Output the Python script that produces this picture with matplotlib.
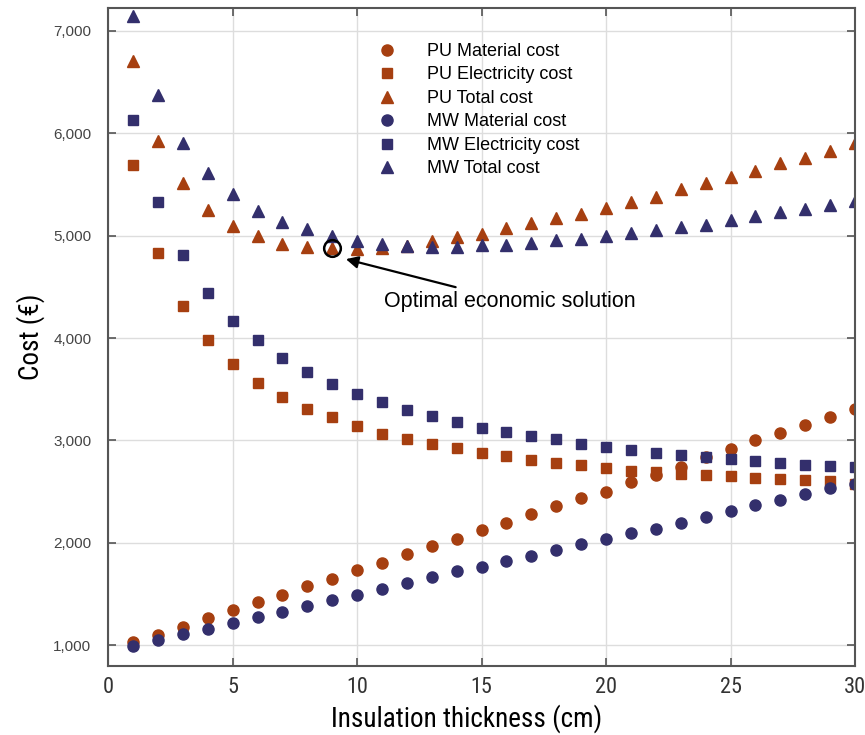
import matplotlib.pyplot as plt
import numpy as np

thickness = np.arange(1, 31)

pu_material = [1030, 1098, 1179, 1266, 1341, 1422, 1494, 1579, 1650, 1738,
               1805, 1888, 1969, 2041, 2129, 2197, 2285, 2356, 2437, 2502,
               2590, 2665, 2746, 2837, 2919, 3000, 3071, 3153, 3228, 3309]
pu_electricity = [5690, 4827, 4312, 3985, 3748, 3563, 3422, 3309, 3228, 3140,
                  3068, 3010, 2961, 2922, 2876, 2847, 2805, 2779, 2759, 2734,
                  2707, 2691, 2675, 2662, 2649, 2632, 2620, 2610, 2600, 2580]
pu_total = [6707, 5927, 5510, 5251, 5095, 4997, 4919, 4893, 4880, 4870,
            4880, 4895, 4951, 4990, 5016, 5071, 5120, 5172, 5211, 5265,
            5325, 5380, 5455, 5510, 5576, 5634, 5706, 5758, 5829, 5900]
mw_material = [993, 1049, 1107, 1163, 1221, 1276, 1322, 1380, 1439, 1494,
               1553, 1608, 1666, 1722, 1764, 1822, 1871, 1934, 1985, 2041,
               2100, 2138, 2197, 2252, 2307, 2366, 2421, 2480, 2535, 2577]
mw_electricity = [6132, 5329, 4815, 4441, 4171, 3976, 3803, 3667, 3553, 3449,
                  3380, 3293, 3237, 3185, 3124, 3081, 3039, 3010, 2968, 2941,
                  2912, 2880, 2863, 2840, 2821, 2795, 2779, 2763, 2749, 2739]
mw_total = [7146, 6373, 5904, 5612, 5407, 5244, 5137, 5065, 5000, 4951,
            4915, 4902, 4893, 4893, 4909, 4909, 4925, 4958, 4970, 5000,
            5026, 5055, 5085, 5107, 5150, 5188, 5227, 5260, 5299, 5341]

optimum_x = 9
optimum_y = 4880

pu_color = "#a63f10"
mw_color = "#332f6c"
narrow = ["Roboto Condensed", "Liberation Sans"]

plt.rcParams["font.family"] = ["Liberation Sans", "DejaVu Sans"]

fig = plt.figure(figsize=(8.65, 7.35), dpi=100)
ax = fig.add_axes([0.125, 0.094, 0.8635, 0.895])

ax.plot(thickness, pu_material, "o", color=pu_color, ms=8, label="PU Material cost")
ax.plot(thickness, pu_electricity, "s", color=pu_color, ms=6.5, label="PU Electricity cost")
ax.plot(thickness, pu_total, "^", color=pu_color, ms=8.5, label="PU Total cost")
ax.plot(thickness, mw_material, "o", color=mw_color, ms=8, label="MW Material cost")
ax.plot(thickness, mw_electricity, "s", color=mw_color, ms=6.5, label="MW Electricity cost")
ax.plot(thickness, mw_total, "^", color=mw_color, ms=8.5, label="MW Total cost")

# optimum marker + annotation
ax.plot(optimum_x, optimum_y, "o", mfc="none", mec="black", mew=1.8, ms=12)
ax.annotate("Optimal economic solution", xy=(9.55, 4770), xytext=(11.1, 4360),
            fontsize=15.5, va="center", ha="left",
            arrowprops=dict(arrowstyle="-|>", color="black", lw=1.6,
                            mutation_scale=18, shrinkA=2, shrinkB=0))

ax.set_xlim(0, 30)
ax.set_ylim(800, 7220)
ax.set_xticks(np.arange(0, 31, 5))
ax.set_yticks(np.arange(1000, 7001, 1000))
ax.set_yticklabels([f"{v:,}" for v in range(1000, 7001, 1000)],
                   fontsize=11, color="#444444")
ax.set_xticklabels([str(v) for v in range(0, 31, 5)], fontsize=16,
                   family=narrow, color="#333333")
ax.tick_params(direction="in", top=True, right=True, length=6, width=1.2,
               color="#555555")
ax.tick_params(axis="x", pad=8)
ax.tick_params(axis="y", pad=12)
ax.grid(True, color="#dddddd", lw=1)
for s in ax.spines.values():
    s.set_color("#555555")
    s.set_linewidth(1.5)

ax.set_xlabel("Insulation thickness (cm)", fontsize=19.5, family=narrow)
ax.set_ylabel("Cost (€)", fontsize=19.5, family=narrow)
ax.xaxis.set_label_coords(0.48, -0.058)
ax.yaxis.set_label_coords(-0.085, 0.5)

leg = ax.legend(loc="upper left", bbox_to_anchor=(0.34, 0.958), frameon=False,
                fontsize=13, handletextpad=1.2, labelspacing=0.36,
                borderaxespad=0)

fig.savefig("out.png", dpi=100)
